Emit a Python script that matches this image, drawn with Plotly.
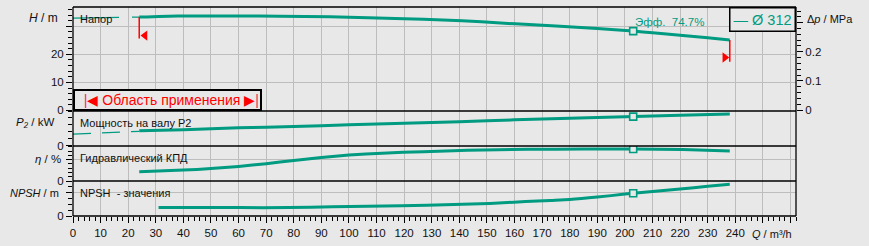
import plotly.graph_objects as go

BG = "#e8e8e8"
TEAL = "#009b80"
GRID = "#bdbdbd"
RED = "#ff0000"
TXT = "#111111"
FONT = "Liberation Sans, Arial, sans-serif"

# ---------------- data ----------------
Q_ticks = list(range(0, 270, 10))
Q_tick_labels = [str(v) if v <= 240 else "" for v in Q_ticks]

# head (m) - extrapolated part and working part
Q_H_ext = [0, 24]
H_ext = [32.9, 33.3]
Q_H = [24, 38, 60, 75, 93, 107, 120, 134, 148, 162, 175, 190, 203, 210, 220, 230, 238]
H = [33.3, 33.7, 33.7, 33.6, 33.4, 33.1, 32.7, 32.3, 31.6, 30.8, 30.1, 29.2, 28.3, 27.7, 26.8, 25.9, 25.1]

# shaft power P2 (kW)
Q_P_ext = [0, 24]
P_ext = [8.3, 10.3]
Q_P = [24, 40, 60, 80, 100, 120, 140, 160, 180, 200, 220, 238]
P2 = [10.6, 11.5, 12.8, 13.7, 15.0, 16.1, 17.3, 18.6, 19.7, 20.8, 22.0, 22.8]

# hydraulic efficiency (%)
Q_eta = [24, 40, 50, 60, 70, 80, 90, 100, 112, 127, 143, 165, 185, 203, 221, 238]
eta = [21.7, 25.5, 29.0, 34.0, 40.5, 48.0, 55.0, 60.5, 65.0, 68.5, 71.5, 74.0, 74.5, 74.7, 73.4, 70.1]

# NPSH (m)
Q_npsh = [31, 60, 78, 94, 119, 138, 151, 164, 173, 180, 190, 200, 210, 220, 230, 238]
npsh = [2.8, 2.8, 2.8, 3.1, 3.4, 3.8, 4.2, 4.8, 5.2, 5.5, 6.3, 7.3, 8.2, 9.0, 9.9, 10.6]

# duty point
Q_opt = [203]
H_opt = [28.3]
P_opt = [20.9]
eta_opt = [74.7]
npsh_opt = [7.6]

# application range limits
Q_lim = [24, 238]
H_lim_top = [33.3, 25.1]
H_lim_bottom = [25.7, 17.4]
Q_arrow = [26.1, 236.2]
H_arrow = [26.7, 18.9]

H_ticks = [0, 10, 20, 30]
H_tick_labels = ["0", "10", "20", ""]
dp_ticks = [0, 0.1, 0.2, 0.3]
dp_tick_labels = ["0", "0.1", "0.2", ""]

impeller = "Ø 312"

# ---------------- layout geometry ----------------
W, Hh = 869, 246
ML, MR, MT, MB = 73, 73, 7, 30
PH = Hh - MT - MB  # 209
def py(px):  # pixel y -> paper y
    return (Hh - MB - px) / PH

dom_H = [py(111), 1]
dom_P = [py(146), py(111)]
dom_E = [py(181), py(146)]
dom_N = [0, py(181)]

fig = go.Figure()

def curve(x, y, yaxis, dash=None, width=3):
    fig.add_trace(go.Scatter(x=x, y=y, yaxis=yaxis, mode="lines",
                             line=dict(color=TEAL, width=width, dash=dash, shape="spline", smoothing=0.6),
                             hoverinfo="skip", showlegend=False))

def opt_marker(y, yaxis):
    fig.add_trace(go.Scatter(x=Q_opt, y=y, yaxis=yaxis, mode="markers",
                             marker=dict(symbol="square", size=7, color=BG,
                                         line=dict(color=TEAL, width=1.6)),
                             hoverinfo="skip", showlegend=False))

curve(Q_H_ext, H_ext, "y", dash="46px,13px", width=1.2)
curve(Q_H, H, "y")
opt_marker(H_opt, "y")
curve(Q_P_ext, P_ext, "y3", dash="18px,11px", width=1.2)
curve(Q_P, P2, "y3")
opt_marker(P_opt, "y3")
curve(Q_eta, eta, "y4")
opt_marker(eta_opt, "y4")
curve(Q_npsh, npsh, "y5")
opt_marker(npsh_opt, "y5")

# invisible trace to keep the Δp axis alive
fig.add_trace(go.Scatter(x=[Q_lim[0]], y=[0], yaxis="y2", mode="markers",
                         marker=dict(opacity=0), hoverinfo="skip", showlegend=False))

# application range arrows
fig.add_trace(go.Scatter(x=[Q_arrow[0]], y=[H_arrow[0]], yaxis="y", mode="markers",
                         marker=dict(symbol="triangle-left", size=9, color=RED),
                         hoverinfo="skip", showlegend=False))
fig.add_trace(go.Scatter(x=[Q_arrow[1]], y=[H_arrow[1]], yaxis="y", mode="markers",
                         marker=dict(symbol="triangle-right", size=9, color=RED),
                         hoverinfo="skip", showlegend=False))

shapes = []
for q, a, b in zip(Q_lim, H_lim_top, H_lim_bottom):
    shapes.append(dict(type="line", xref="x", yref="y", x0=q, x1=q, y0=a, y1=b,
                       line=dict(color=RED, width=1.5)))
for yy in [0, dom_N[1], dom_E[1], dom_P[1], 1]:
    shapes.append(dict(type="line", xref="paper", yref="paper", x0=0, x1=1, y0=yy, y1=yy,
                       line=dict(color="black", width=1.3)))
for xx in [0, 1]:
    shapes.append(dict(type="line", xref="paper", yref="paper", x0=xx, x1=xx, y0=0, y1=1,
                       line=dict(color="black", width=1.3)))

tickfont = dict(family=FONT, size=11.5, color=TXT)

def yax(domain, rng, tickvals, ticktext, minor_dtick, grid=True, **kw):
    d = dict(domain=domain, range=rng, anchor="x", tickmode="array", tickvals=tickvals,
             ticktext=ticktext, ticks="outside", ticklen=6, tickcolor="black", tickwidth=1,
             tickfont=tickfont, showgrid=grid, gridcolor=GRID, gridwidth=1, zeroline=False,
             showline=False, fixedrange=True,
             minor=dict(tickmode="linear", tick0=0, dtick=minor_dtick, ticks="outside",
                        ticklen=4, tickcolor="black", tickwidth=1, showgrid=False))
    d.update(kw)
    return d

ann = []
def label(text, x, y, xanchor, yanchor="middle", xshift=0, yshift=0, size=11, color=TXT, xref="paper", yref="paper", **kw):
    a = dict(text=text, x=x, y=y, xref=xref, yref=yref, xanchor=xanchor, yanchor=yanchor,
             xshift=xshift, yshift=yshift, showarrow=False,
             font=dict(family=FONT, size=size, color=color))
    a.update(kw)
    ann.append(a)

label("Напор", 0, py(19), "left", xshift=5)
label("Мощность на валу P2", 0, py(123), "left", xshift=5)
label("Гидравлический КПД", 0, py(158), "left", xshift=5)
label("NPSH  - значения", 0, py(193), "left", xshift=5)

label("<i>H</i> / m", 0, py(18), "right", xshift=-13, size=12)
label("<i>P₂</i> / kW", 0, py(122.5), "right", xshift=-17, size=11.5)
label("<i>η</i> / %", 0, py(158.5), "right", xshift=-10, size=11.5)
label("<i>NPSH</i> / m", 0, py(192.5), "right", xshift=-12, size=11)
label("Δ<i>p</i> / MPa", 1, py(18.5), "left", xshift=9, size=11)
label("<i>Q</i> / m³/h", 1, py(234), "right", xshift=-2, size=11)

label("Эфф.\u00a0\u00a0" + f"{eta_opt[0]}%", Q_opt[0], H_opt[0], "left", yanchor="bottom",
      xshift=0, yshift=1, size=11.5, color=TEAL, xref="x", yref="y")

label("—\u00a0" + impeller, 1, 1, "right", yanchor="top", size=14.5, color=TEAL,
      bordercolor="black", borderwidth=1.5, borderpad=3, bgcolor=BG, xshift=0)
label("\u00a0\u00a0<span style='color:#ff2060'>|</span>◀ Область применения ▶<span style='color:#ff2060'>|</span>",
      0, dom_P[1], "left", yanchor="bottom", size=14, color=RED,
      bordercolor="black", borderwidth=2, borderpad=1, bgcolor=BG)

fig.update_layout(
    width=W, height=Hh, autosize=False,
    margin=dict(l=ML, r=MR, t=MT, b=MB, pad=0),
    paper_bgcolor=BG, plot_bgcolor=BG,
    showlegend=False,
    font=dict(family=FONT, size=12, color=TXT),
    xaxis=dict(domain=[0, 1], range=[0, 262], anchor="y5", tickmode="array",
               tickvals=Q_ticks, ticktext=Q_tick_labels, ticks="outside", ticklen=6,
               tickcolor="black", tickwidth=1, tickfont=tickfont, showgrid=True,
               gridcolor=GRID, gridwidth=1, zeroline=False, showline=False, fixedrange=True,
               minor=dict(tickmode="linear", tick0=0, dtick=2, ticks="outside", ticklen=4,
                          tickcolor="black", tickwidth=1, showgrid=False)),
    yaxis=yax(dom_H, [-0.2, 36.9], H_ticks, H_tick_labels, 2),
    yaxis2=dict(overlaying="y", side="right", anchor="x", range=[-0.0034, 0.354],
                tickmode="array", tickvals=dp_ticks, ticktext=dp_tick_labels,
                ticks="outside", ticklen=6, tickcolor="black", tickwidth=1, tickfont=tickfont,
                showgrid=False, zeroline=False, showline=False, fixedrange=True,
                minor=dict(tickmode="linear", tick0=0, dtick=0.02, ticks="outside",
                           ticklen=4, tickcolor="black", tickwidth=1, showgrid=False)),
    yaxis3=yax(dom_P, [-0.36, 25], [0], ["0"], 5, grid=False),
    yaxis4=yax(dom_E, [0, 81.7], [0, 50], ["0", ""], 10),
    yaxis5=yax(dom_N, [0, 11.67], [0, 8], ["0", ""], 2),
    shapes=shapes,
    annotations=ann,
)

fig.write_html("out.html")
